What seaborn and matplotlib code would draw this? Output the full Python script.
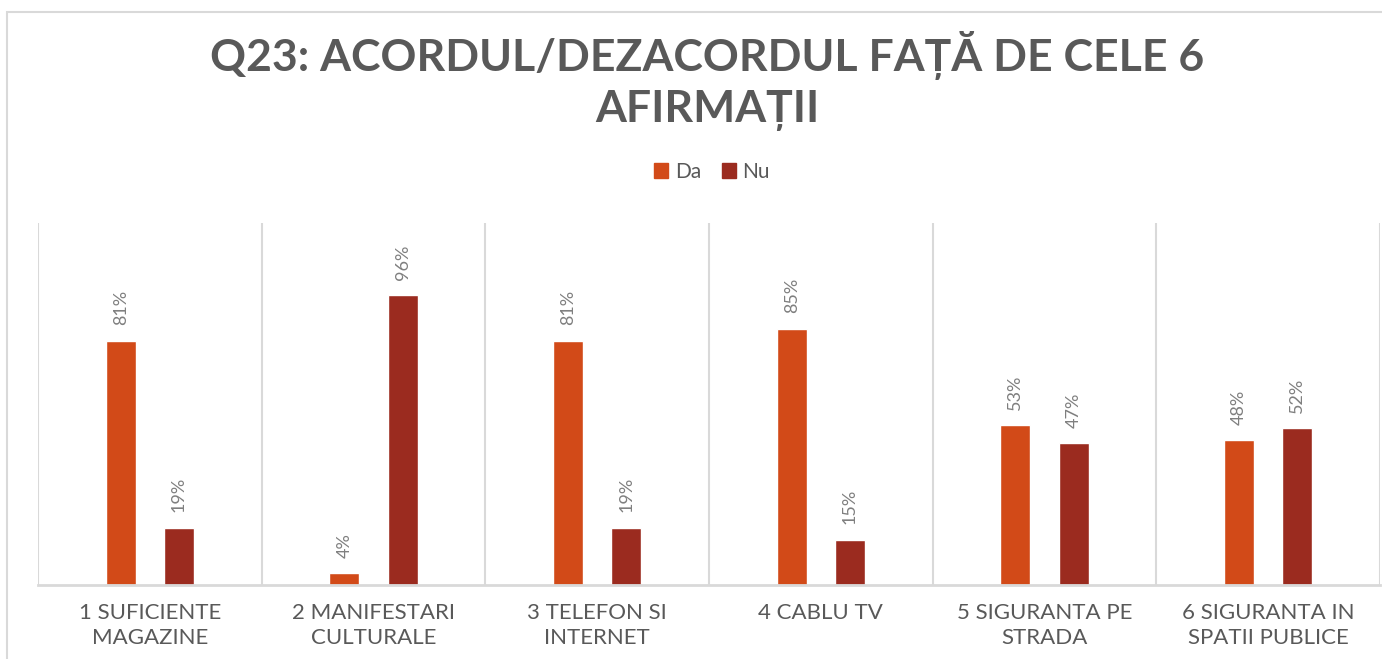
import matplotlib
matplotlib.use("Agg")
import matplotlib.pyplot as plt
import seaborn as sns
import pandas as pd
from matplotlib.patches import Rectangle

# Data
categories = ["1 SUFICIENTE\nMAGAZINE", "2 MANIFESTARI\nCULTURALE", "3 TELEFON SI\nINTERNET",
              "4 CABLU TV", "5 SIGURANTA PE\nSTRADA", "6 SIGURANTA IN\nSPATII PUBLICE"]
da_values = [81, 4, 81, 85, 53, 48]
nu_values = [19, 96, 19, 15, 47, 52]
series = ["Da", "Nu"]
colors = ["#D24A18", "#9B2B1F"]

df = pd.DataFrame({
    "cat": categories * 2,
    "val": da_values + nu_values,
    "serie": ["Da"] * len(categories) + ["Nu"] * len(categories),
})

sns.set_theme(style="white")
plt.rcParams["font.family"] = ["Lato", "DejaVu Sans"]

text_gray = "#595959"
grid_gray = "#D9D9D9"

fig = plt.figure(figsize=(13.82, 6.59), dpi=100)
ax = fig.add_axes([38 / 1382, 1 - 585 / 659, (1380 - 38) / 1382, (585 - 223) / 659])

sns.barplot(data=df, x="cat", y="val", hue="serie", hue_order=series,
            palette=colors, width=0.52, gap=0.485, ax=ax, legend=False,
            saturation=1)

# value labels
for cont in ax.containers:
    for bar in cont:
        h = bar.get_height()
        ax.annotate(f"{int(round(h))}%", (bar.get_x() + bar.get_width() / 2, h),
                    xytext=(0, 11), textcoords="offset points", rotation=90,
                    ha="center", va="bottom", fontsize=13, color="#7F7F7F")

ax.set_ylim(0, 120)
ax.set_xlim(-0.5, 5.5)
ax.set_yticks([])
ax.set_xlabel("")
ax.set_ylabel("")

# category separators
for x in [-0.5, 0.5, 1.5, 2.5, 3.5, 4.5, 5.5]:
    ax.axvline(x, color=grid_gray, lw=1.5, zorder=0)

for s in ["top", "left", "right"]:
    ax.spines[s].set_visible(False)
ax.spines["bottom"].set_color(grid_gray)
ax.spines["bottom"].set_linewidth(2)

ax.tick_params(axis="x", length=0, pad=13)
ax.set_xticks(range(len(categories)))
ax.set_xticklabels(categories, fontsize=16, color=text_gray, linespacing=1.3)

# title
fig.text(0.512, 1 - 81 / 659, "Q23: ACORDUL/DEZACORDUL FAȚĂ DE CELE 6\nAFIRMAȚII",
         ha="center", va="center", fontsize=32, fontweight="bold", color=text_gray,
         linespacing=1.25)

# legend
handles = [Rectangle((0, 0), 1, 1, color=c) for c in colors]
fig.legend(handles, series, loc="center", bbox_to_anchor=(712 / 1382, 1 - 172 / 659),
           ncol=2, frameon=False, fontsize=15, handlelength=0.7, handleheight=0.7,
           handletextpad=0.3, columnspacing=1.0, labelcolor=text_gray)

# outer chart border
fig.patches.append(Rectangle((7 / 1382, -0.1), 1.2, 1.1 - 12 / 659,
                             transform=fig.transFigure, fill=False,
                             ec=grid_gray, lw=1.5))

fig.savefig("out.png", dpi=100)
